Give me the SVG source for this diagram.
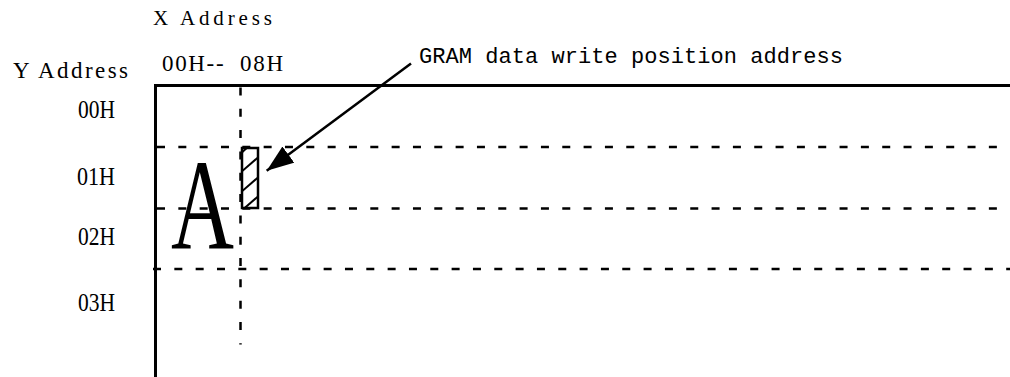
<svg xmlns="http://www.w3.org/2000/svg" width="1010" height="377" viewBox="0 0 1010 377">
  <style>
    .lbl { font-family: "Liberation Serif", "DejaVu Serif", serif; fill: #000; }
    .note { font-family: "Liberation Mono", "DejaVu Sans Mono", monospace; fill: #000; }
    .frame { stroke: #000; stroke-width: 3; fill: none; }
    .dash { stroke: #000; stroke-width: 2.5; fill: none; stroke-dasharray: 8 13.33; }
    .cell { stroke: #000; stroke-width: 2.5; fill: none; }
    .hatch { stroke: #000; stroke-width: 2; fill: none; }
    .conn { stroke: #000; stroke-width: 2.5; fill: none; }
  </style>
  <defs>
    <marker id="arrowhead" markerUnits="userSpaceOnUse" markerWidth="30" markerHeight="24" refX="27" refY="10" orient="auto">
      <path d="M0,0 L27,10 L0,20 Z" fill="#000"/>
    </marker>
    <clipPath id="cellclip">
      <rect x="242" y="148" width="16" height="60"/>
    </clipPath>
  </defs>
  <rect width="1010" height="377" fill="#fff"/>

  <g id="axis-labels">
    <text class="lbl" x="153" y="25" font-size="21" textLength="119">X Address</text>
    <text class="lbl" x="13" y="78" font-size="23" textLength="115">Y Address</text>
    <text class="lbl" x="162" y="71" font-size="23" textLength="121" xml:space="preserve">00H--  08H</text>
  </g>

  <g id="row-labels">
    <text class="lbl" x="78" y="118" font-size="25" textLength="37" lengthAdjust="spacingAndGlyphs">00H</text>
    <text class="lbl" x="77" y="185" font-size="25" textLength="38" lengthAdjust="spacingAndGlyphs">01H</text>
    <text class="lbl" x="78" y="245" font-size="25" textLength="37" lengthAdjust="spacingAndGlyphs">02H</text>
    <text class="lbl" x="78" y="311" font-size="25" textLength="37" lengthAdjust="spacingAndGlyphs">03H</text>
  </g>

  <g id="frame">
    <line class="frame" x1="155.5" y1="84" x2="155.5" y2="377"/>
    <line class="frame" x1="154" y1="85.5" x2="1010" y2="85.5"/>
  </g>

  <g id="grid">
    <line class="dash" x1="157" y1="147" x2="999" y2="147"/>
    <line class="dash" x1="157" y1="208.5" x2="999" y2="208.5"/>
    <line class="dash" x1="153" y1="269" x2="1010" y2="269"/>
    <line class="dash" x1="240.5" y1="87.4" x2="240.5" y2="344.5"/>
  </g>

  <g id="glyph-A">
    <text class="lbl" x="171" y="249" font-size="130" textLength="63" lengthAdjust="spacingAndGlyphs">A</text>
  </g>

  <g id="write-cell">
    <g clip-path="url(#cellclip)">
      <line class="hatch" x1="238" y1="156" x2="250" y2="145"/>
      <line class="hatch" x1="240" y1="173" x2="262" y2="154"/>
      <line class="hatch" x1="240" y1="193" x2="262" y2="174"/>
      <line class="hatch" x1="240" y1="212" x2="262" y2="193"/>
    </g>
    <rect class="cell" x="242" y="148" width="16" height="60"/>
  </g>

  <g id="callout">
    <text class="note" x="419" y="63" font-size="22" textLength="424">GRAM data write position address</text>
  </g>

  <g id="connectors">
    <line class="conn" x1="411" y1="63.5" x2="266.7" y2="170.7" marker-end="url(#arrowhead)"/>
  </g>
</svg>
